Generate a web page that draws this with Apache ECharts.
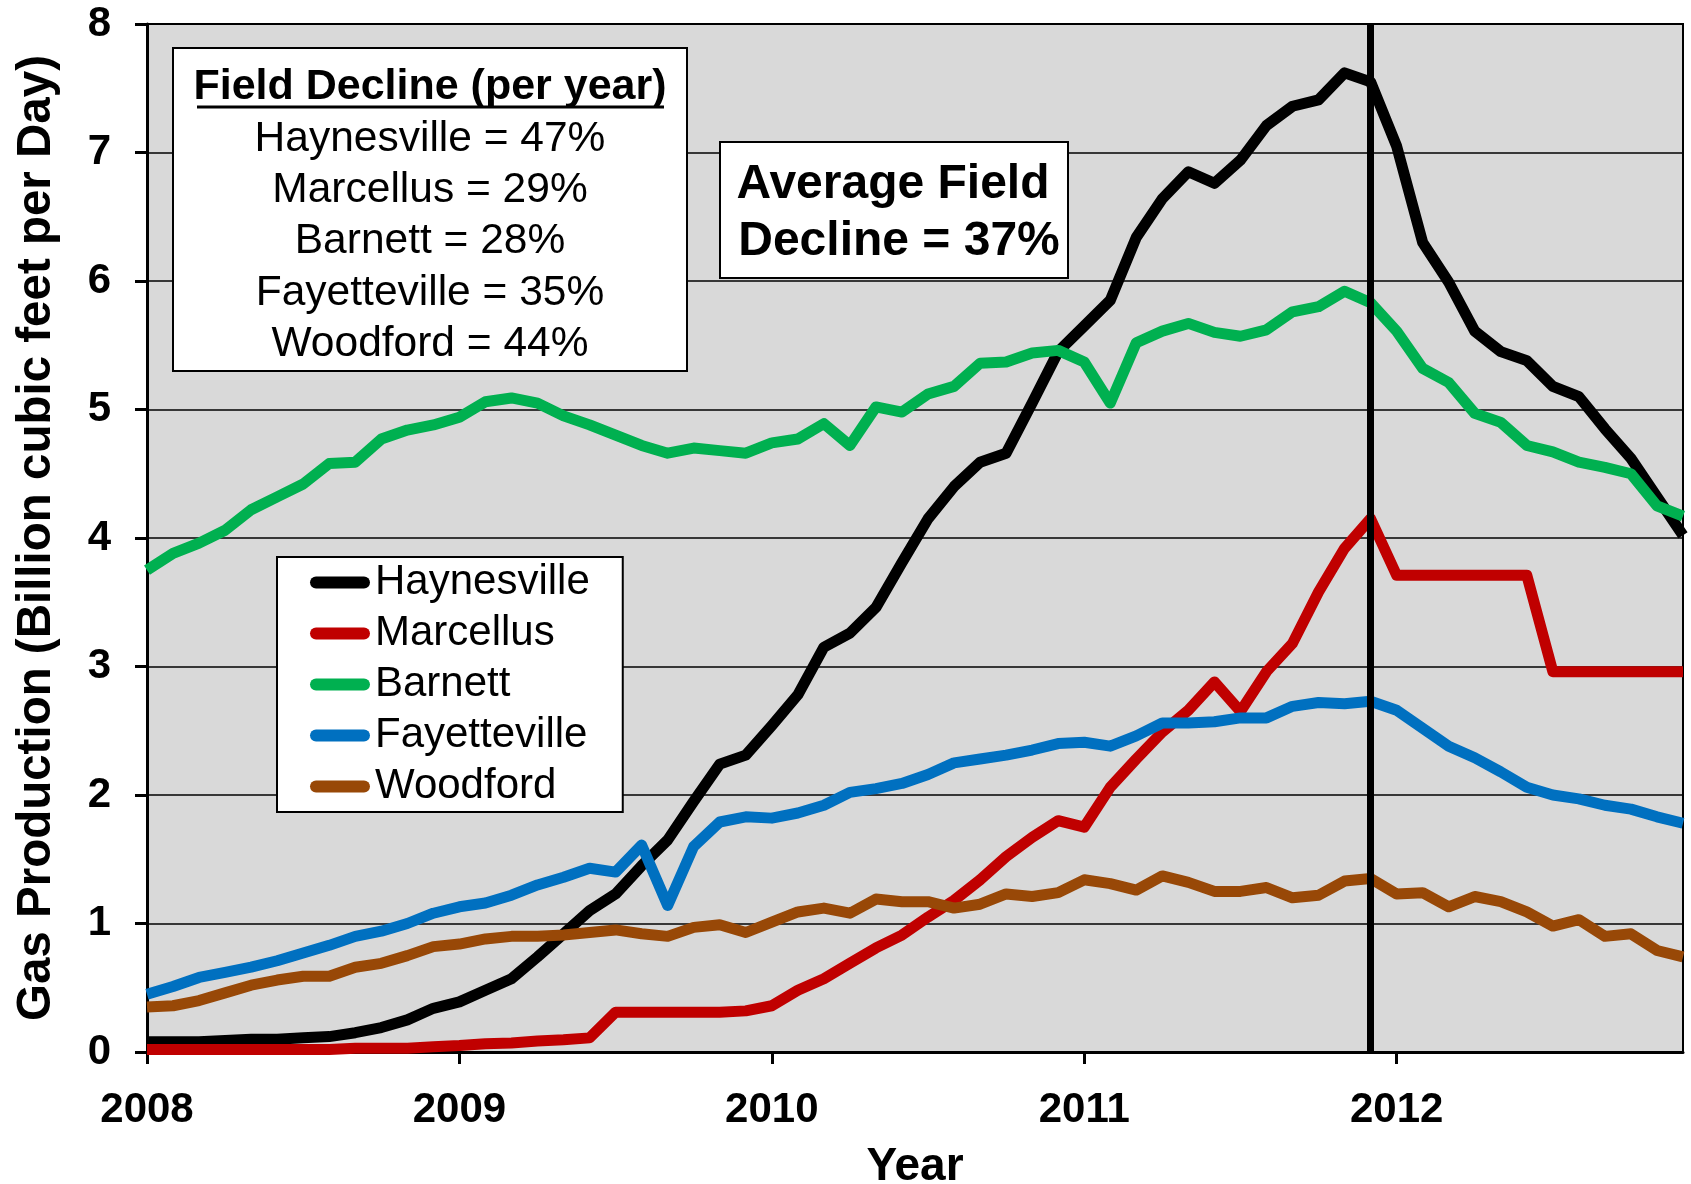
<!DOCTYPE html>
<html>
<head>
<meta charset="utf-8">
<script src="https://cdn.jsdelivr.net/npm/echarts@6/dist/echarts.min.js"></script>
<style>
  html, body { margin: 0; background: #fff; }
  #chart { width: 1691px; height: 1184px; }
</style>
</head>
<body>
<div id="chart"></div>
<script>
// monthly production, Jan 2008 .. Dec 2012 (Bcf/d)
const years = ['2008', '2009', '2010', '2011', '2012']
const seriesNames = ['Haynesville', 'Marcellus', 'Barnett', 'Fayetteville', 'Woodford']
const colors = ['#000000', '#C00000', '#00B050', '#0070C0', '#984807']

const haynesville = [
  0.08, 0.08, 0.08, 0.09, 0.10, 0.10, 0.11, 0.12, 0.15, 0.19, 0.25, 0.34,
  0.39, 0.48, 0.57, 0.74, 0.92, 1.10, 1.23, 1.45, 1.65, 1.95, 2.24, 2.31,
  2.54, 2.78, 3.15, 3.26, 3.46, 3.81, 4.15, 4.40, 4.59, 4.66, 5.05, 5.45,
  5.65, 5.85, 6.34, 6.64, 6.85, 6.76, 6.94, 7.21, 7.36, 7.41, 7.62, 7.55,
  7.05, 6.30, 5.99, 5.61, 5.45, 5.38, 5.18, 5.10, 4.85, 4.62, 4.32, 4.02
]
const marcellus = [
  0.02, 0.02, 0.02, 0.02, 0.02, 0.02, 0.02, 0.02, 0.03, 0.03, 0.03, 0.04,
  0.05, 0.065, 0.07, 0.085, 0.095, 0.11, 0.31, 0.31, 0.31, 0.31, 0.31, 0.32,
  0.36, 0.48, 0.57, 0.69, 0.81, 0.91, 1.05, 1.18, 1.34, 1.52, 1.67, 1.80,
  1.75, 2.06, 2.28, 2.49, 2.66, 2.88, 2.65, 2.96, 3.18, 3.58, 3.92, 4.15,
  3.71, 3.71, 3.71, 3.71, 3.71, 3.71, 2.96, 2.96, 2.96, 2.96, 2.96, 2.96
]
const barnett = [
  3.75, 3.88, 3.96, 4.06, 4.22, 4.32, 4.42, 4.58, 4.59, 4.77, 4.84, 4.88,
  4.94, 5.06, 5.09, 5.05, 4.95, 4.88, 4.80, 4.72, 4.66, 4.70, 4.68, 4.66,
  4.74, 4.77, 4.89, 4.72, 5.02, 4.98, 5.12, 5.18, 5.36, 5.37, 5.44, 5.46,
  5.37, 5.05, 5.52, 5.61, 5.67, 5.60, 5.57, 5.62, 5.76, 5.80, 5.92, 5.83,
  5.61, 5.32, 5.21, 4.97, 4.90, 4.72, 4.67, 4.59, 4.55, 4.50, 4.25, 4.17
]
const fayetteville = [
  0.45, 0.51, 0.58, 0.62, 0.66, 0.71, 0.77, 0.83, 0.90, 0.94, 1.00, 1.08,
  1.13, 1.16, 1.22, 1.30, 1.36, 1.43, 1.40, 1.61, 1.14, 1.60, 1.79, 1.83,
  1.82, 1.86, 1.92, 2.02, 2.05, 2.09, 2.16, 2.25, 2.28, 2.31, 2.35, 2.40,
  2.41, 2.38, 2.46, 2.56, 2.56, 2.57, 2.60, 2.60, 2.69, 2.72, 2.71, 2.73,
  2.66, 2.52, 2.38, 2.29, 2.18, 2.06, 2.00, 1.97, 1.92, 1.89, 1.83, 1.78
]
const woodford = [
  0.35, 0.36, 0.40, 0.46, 0.52, 0.56, 0.59, 0.59, 0.66, 0.69, 0.75, 0.82,
  0.84, 0.88, 0.90, 0.90, 0.91, 0.93, 0.95, 0.92, 0.90, 0.97, 0.99, 0.93,
  1.01, 1.09, 1.12, 1.08, 1.19, 1.17, 1.17, 1.12, 1.15, 1.23, 1.21, 1.24,
  1.34, 1.31, 1.26, 1.37, 1.32, 1.25, 1.25, 1.28, 1.20, 1.22, 1.33, 1.35,
  1.23, 1.24, 1.13, 1.21, 1.17, 1.09, 0.98, 1.03, 0.90, 0.92, 0.79, 0.74
]
const declines = [
  'Haynesville = 47%',
  'Marcellus = 29%',
  'Barnett = 28%',
  'Fayetteville = 35%',
  'Woodford = 44%'
]
const peakMonth = '2011-12'

const FONT = "'Liberation Sans', Arial, sans-serif"
const allData = [haynesville, marcellus, barnett, fayetteville, woodford]

const months = []
years.forEach(y => {
  for (let m = 1; m <= 12; m++) months.push(y + '-' + (m < 10 ? '0' + m : m))
})

const chart = echarts.init(document.getElementById('chart'))

const series = seriesNames.map((name, k) => ({
  name: name,
  type: 'line',
  data: allData[k],
  symbol: 'none',
  showSymbol: false,
  lineStyle: { width: 11, color: colors[k], join: 'round' },
  emphasis: { disabled: true },
  itemStyle: { color: colors[k] },
  z: 2
}))
// vertical marker at the peak month
series[4].markLine = {
  silent: true,
  symbol: ['none', 'none'],
  label: { show: false },
  lineStyle: { color: '#000', width: 7, type: 'solid' },
  data: [{ xAxis: peakMonth }]
}

const centered = { align: 'center', verticalAlign: 'middle', textAlign: 'center', textVerticalAlign: 'middle' }

// text boxes
const graphic = [
  { type: 'rect', shape: { x: 173, y: 48, width: 514, height: 323 },
    style: { fill: '#fff', stroke: '#000', lineWidth: 2 }, z: 100 },
  { type: 'text', x: 430, y: 87, z: 101,
    style: Object.assign({ text: 'Field Decline (per year)', font: 'bold 43px ' + FONT, fill: '#000' }, centered) },
  { type: 'line', shape: { x1: 197, y1: 107, x2: 664, y2: 107 },
    style: { stroke: '#000', lineWidth: 3 }, z: 101 },
  { type: 'rect', shape: { x: 720, y: 142, width: 348, height: 136 },
    style: { fill: '#fff', stroke: '#000', lineWidth: 2 }, z: 100 },
  { type: 'text', x: 893, y: 185, z: 101,
    style: Object.assign({ text: 'Average Field', font: 'bold 48px ' + FONT, fill: '#000' }, centered) },
  { type: 'text', x: 899, y: 242, z: 101,
    style: Object.assign({ text: 'Decline = 37%', font: 'bold 48px ' + FONT, fill: '#000' }, centered) }
]
declines.forEach((t, k) => {
  graphic.push({
    type: 'text', x: 430, y: 139 + k * 51.3, z: 101,
    style: Object.assign({ text: t, font: '42.5px ' + FONT, fill: '#000' }, centered)
  })
})

chart.setOption({
  animation: false,
  backgroundColor: '#fff',
  textStyle: { fontFamily: FONT },
  grid: {
    left: 147, right: 8, top: 24, bottom: 132,
    outerBoundsMode: 'none',
    containLabel: false,
    show: true, backgroundColor: '#D9D9D9', borderColor: '#000', borderWidth: 2
  },
  legend: {
    data: seriesNames,
    orient: 'vertical',
    left: 277, top: 557,
    itemWidth: 60, itemHeight: 12, itemGap: 0,
    icon: 'path://M6,0L54,0A6,6,0,0,1,54,12L6,12A6,6,0,0,1,6,0Z',
    padding: [0, 33, 0, 33],
    backgroundColor: '#fff', borderColor: '#000', borderWidth: 2,
    textStyle: { fontSize: 42, color: '#000', lineHeight: 51, fontFamily: FONT }
  },
  xAxis: {
    type: 'category',
    data: months,
    boundaryGap: false,
    name: 'Year',
    nameLocation: 'middle',
    nameGap: 92,
    nameTextStyle: { fontSize: 46, fontWeight: 'bold', color: '#000', fontFamily: FONT },
    axisLine: { show: true, lineStyle: { color: '#000', width: 3 } },
    axisTick: { show: true, interval: i => i % 12 === 0, length: 12, lineStyle: { color: '#000', width: 3 } },
    axisLabel: {
      interval: i => i % 12 === 0,
      formatter: v => v.slice(0, 4),
      fontSize: 42, fontWeight: 'bold', color: '#000', margin: 37, fontFamily: FONT
    },
    splitLine: { show: false }
  },
  yAxis: {
    type: 'value',
    min: 0, max: 8, interval: 1,
    name: 'Gas Production (Billion cubic feet per Day)',
    nameLocation: 'middle',
    nameGap: 86,
    nameTextStyle: { fontSize: 47.5, fontWeight: 'bold', color: '#000', fontFamily: FONT },
    axisLine: { show: true, lineStyle: { color: '#000', width: 3 } },
    axisTick: { show: true, length: 12, lineStyle: { color: '#000', width: 3 } },
    axisLabel: { fontSize: 42, fontWeight: 'bold', color: '#000', margin: 36, fontFamily: FONT },
    splitLine: { lineStyle: { color: '#000', width: 1.5 } }
  },
  graphic: graphic,
  series: series
})
</script>
</body>
</html>
